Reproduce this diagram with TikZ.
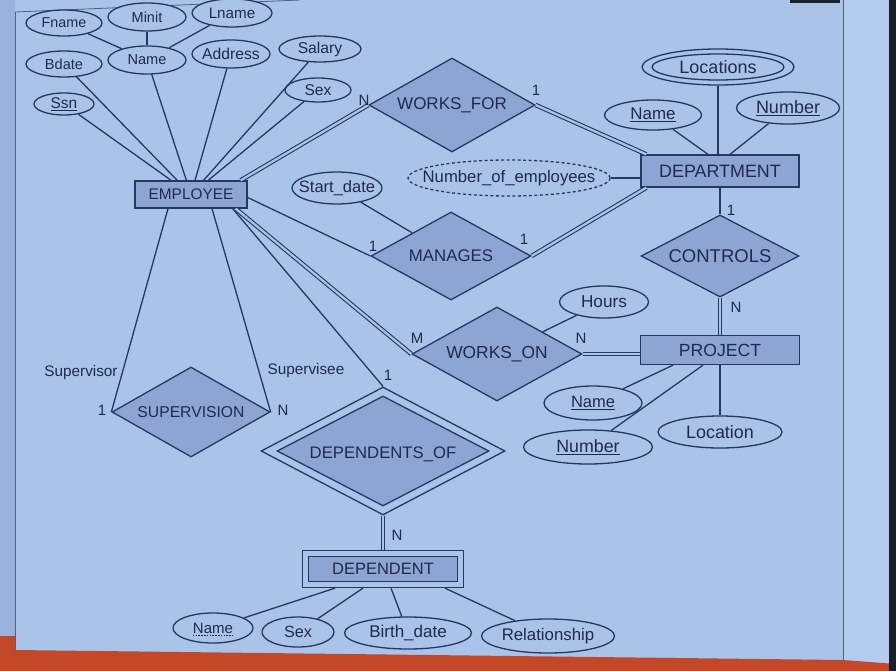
\documentclass[tikz,border=0pt]{standalone}
\usepackage{fontspec}
\setmainfont{Liberation Sans}
\usetikzlibrary{shapes.geometric}
\definecolor{bgc}{RGB}{170,195,233}
\definecolor{edgec}{RGB}{152,178,220}
\definecolor{stripc}{RGB}{180,204,238}
\definecolor{shc}{RGB}{140,165,210}
\definecolor{lnc}{RGB}{38,55,100}
\definecolor{txc}{RGB}{33,42,78}
\definecolor{orc}{RGB}{196,72,40}
\definecolor{darkc}{RGB}{26,31,42}
\begin{document}
\begin{tikzpicture}[x=1pt,y=-1pt,
  ln/.style={draw=lnc, line width=1.3pt},
  dbl/.style={draw=lnc, line width=1.1pt, double=bgc, double distance=2.3pt},
  txt/.style={text=txc, font=\fontsize{#1}{#1}\selectfont, inner sep=0pt},
  txt/.default=15,
  card/.style={text=txc, font=\fontsize{15}{16}\selectfont, inner sep=0pt},
  role/.style={text=txc, font=\fontsize{15.3}{16}\selectfont, inner sep=0pt},
  attr/.style={ellipse, draw=lnc, line width=1.3pt, fill=bgc, inner sep=0pt},
  ent/.style={rectangle, draw=lnc, line width=1.3pt, fill=shc, inner sep=0pt},
  rel/.style={diamond, draw=lnc, line width=1.3pt, fill=shc, inner sep=0pt},
  frame/.style={draw=lnc!80, line width=0.8pt}]
\useasboundingbox (0,0) rectangle (896,671);
% backdrop
\fill[bgc] (0,0) rectangle (896,671);
\fill[edgec] (0,0) rectangle (15,671);
\fill[stripc] (843,0) rectangle (889,671);
\fill[orc] (0,636) -- (15,636) -- (15,650) -- (843,660) -- (896,664) -- (896,671) -- (0,671) -- cycle;
\fill[darkc] (889,0) rectangle (896,671);
\fill[darkc] (790,0) rectangle (840,3);
\draw[frame] (15,12) -- (15,650);
\draw[frame] (15,12) -- (300,0);
\draw[frame] (843,0) -- (843,660);

% EMPLOYEE and its attributes
\node[ent, minimum width=112, minimum height=27, label={[txt=15.4]center:EMPLOYEE}] (emp) at (191,194.5) {};
\node[attr, minimum width=76, minimum height=26, label={[txt=14.3]center:Fname}] (fname) at (64,23) {};
\node[attr, minimum width=78, minimum height=28, label={[txt=14.5]center:Minit}] (minit) at (147,17) {};
\node[attr, minimum width=80, minimum height=28, label={[txt=15.2]center:Lname}] (lname) at (232,13) {};
\node[attr, minimum width=76, minimum height=26, label={[txt=14.6]center:Bdate}] (bdate) at (64,64) {};
\node[attr, minimum width=78, minimum height=28, label={[txt=14.6]center:Name}] (ename) at (147,60) {};
\node[attr, minimum width=78, minimum height=28, label={[txt=15.7]center:Address}] (addr) at (231,54) {};
\node[attr, minimum width=82, minimum height=26, label={[txt=15.7]center:Salary}] (sal) at (320,49) {};
\node[attr, minimum width=66, minimum height=24, label={[txt=15.6]center:Sex}] (esex) at (318,90) {};
\node[attr, minimum width=60, minimum height=22, label={[txt=15.5]center:\underline{Ssn}}] (ssn) at (64,104) {};
\draw[ln] (ssn) -- (emp);
\draw[ln] (bdate) -- (emp);
\draw[ln] (ename) -- (emp);
\draw[ln] (addr) -- (emp);
\draw[ln] (sal) -- (emp);
\draw[ln] (esex) -- (emp);
\draw[ln] (fname) -- (ename);
\draw[ln] (minit) -- (ename);
\draw[ln] (lname) -- (ename);

% DEPARTMENT
\node[ent, minimum width=158, minimum height=32, label={[txt=17.9]center:DEPARTMENT}] (dept) at (720,171) {};
\node[attr, minimum width=152, minimum height=36] (loc) at (718,67) {};
\node[attr, minimum width=132, minimum height=26, label={[txt=18]center:Locations}] (locin) at (718,67) {};
\node[attr, minimum width=97, minimum height=30, label={[txt=16.9]center:\underline{Name}}] (dname) at (653,115) {};
\node[attr, minimum width=103, minimum height=32, label={[txt=18]center:\underline{Number}}] (dnum) at (788,108) {};
\node[attr, dashed, dash pattern=on 3pt off 2.5pt, minimum width=202, minimum height=36, label={[txt=16.7]center:Number\_of\_employees}] (noe) at (509,178) {};
\draw[ln] (dname) -- ([xshift=-12pt]dept.north);
\draw[ln] (loc.south) -- (loc.south |- dept.north);
\draw[ln] (dnum) -- ([xshift=10pt]dept.north);
\draw[ln] (noe.east) -- (noe.east -| dept.west);

% WORKS_FOR
\node[rel, minimum width=166, minimum height=94, label={[txt=17]center:WORKS\_FOR}] (wf) at (452,105) {};
\draw[dbl] ([xshift=-7pt]emp.north east) -- (wf.west);
\draw[dbl] (wf.east) -- ([xshift=6pt]dept.north west);

% MANAGES
\node[attr, minimum width=90, minimum height=32, label={[txt=16.5]center:Start\_date}] (sdate) at (337,188) {};
\node[rel, minimum width=160, minimum height=88, label={[txt=16.8]center:MANAGES}] (man) at (451,256) {};
\draw[ln] ([yshift=-3pt]emp.east) -- (man.west);
\draw[ln] (sdate) -- (man);
\draw[dbl] (man.east) -- ([xshift=6pt]dept.south west);

% CONTROLS and PROJECT
\node[rel, minimum width=158, minimum height=82, label={[txt=18.5]center:CONTROLS}] (ctrl) at (720,256) {};
\node[ent, minimum width=159, minimum height=29, label={[txt=17.6]center:PROJECT}] (proj) at (720,350) {};
\draw[ln] (dept) -- (ctrl);
\draw[dbl] (ctrl.south) -- (proj.north);
\node[attr, minimum width=98, minimum height=34, label={[txt=16.5]center:\underline{Name}}] (pname) at (593,403) {};
\node[attr, minimum width=129, minimum height=34, label={[txt=17.8]center:\underline{Number}}] (pnum) at (588,447) {};
\node[attr, minimum width=124, minimum height=32, label={[txt=17.9]center:Location}] (ploc) at (720,432) {};
\draw[ln] (pname) -- ([xshift=-47pt]proj.south);
\draw[ln] (pnum) -- ([xshift=-17pt]proj.south);
\draw[ln] (ploc) -- (proj);

% WORKS_ON
\node[rel, minimum width=170, minimum height=94, label={[txt=17.4]center:WORKS\_ON}] (won) at (497,354) {};
\node[attr, minimum width=89, minimum height=32, label={[txt=17.2]center:Hours}] (hours) at (604,302) {};
\draw[dbl] ([xshift=-12pt]emp.south east) -- (won.west);
\draw[dbl] (won.east) -- (won.east -| proj.west);
\draw[ln] (hours) -- (won);

% SUPERVISION
\node[rel, minimum width=158, minimum height=90, label={[txt=15.7]center:SUPERVISION}] (sup) at (191,412) {};
\draw[ln] ([xshift=-23pt]emp.south) -- (sup.west);
\draw[ln] ([xshift=21pt]emp.south) -- (sup.east);

% DEPENDENTS_OF and DEPENDENT
\node[diamond, draw=lnc, line width=1.3pt, fill=bgc, inner sep=0pt, minimum width=244, minimum height=128] (depof) at (383,451) {};
\node[rel, minimum width=212, minimum height=110, label={[txt=16.7, yshift=-3pt]center:DEPENDENTS\_OF}] (depofin) at (383,451) {};
\draw[ln] ([xshift=-15pt]emp.south east) -- (depof.north);
\node[rectangle, draw=lnc, line width=1.3pt, fill=bgc, inner sep=0pt, minimum width=161, minimum height=37] (dep) at (383,569) {};
\node[ent, minimum width=149, minimum height=25, label={[txt=16.5]center:DEPENDENT}] (depin) at (383,569) {};
\draw[dbl] (depof.south) -- (dep.north);
\node[attr, minimum width=80, minimum height=30, label={[txt=15, name=dpnl]center:Name}] (dpname) at (213,628) {};
\draw[draw=txc, line width=0.8pt, dash pattern=on 1.6pt off 1.2pt] ([yshift=-2pt]dpnl.south west) -- ([yshift=-2pt]dpnl.south east);
\node[attr, minimum width=72, minimum height=30, label={[txt=16.2]center:Sex}] (dsex) at (298,632) {};
\node[attr, minimum width=127, minimum height=32, label={[txt=17]center:Birth\_date}] (dbd) at (408,633) {};
\node[attr, minimum width=133, minimum height=34, label={[txt=16.8]center:Relationship}] (drel) at (548,636) {};
\draw[ln] (dpname) -- ([xshift=-48pt]dep.south);
\draw[ln] (dsex) -- ([xshift=-20pt]dep.south);
\draw[ln] (dbd) -- ([xshift=8pt]dep.south);
\draw[ln] (drel) -- ([xshift=62pt]dep.south);

% cardinalities and roles
\node[card] (c1) at (364,100) {N};
\node[card] (c2) at (536,90) {1};
\node[card] (c3) at (373,246) {1};
\node[card] (c4) at (524,239) {1};
\node[card] (c5) at (731,210) {1};
\node[card] (c6) at (736,307) {N};
\node[card] (c7) at (417,338) {M};
\node[card] (c8) at (581,338) {N};
\node[card] (c9) at (102,410) {1};
\node[card] (c10) at (283,410) {N};
\node[card] (c11) at (388,375) {1};
\node[card] (c12) at (397,535) {N};
\node[role] (r1) at (81,373) {Supervisor};
\node[role] (r2) at (306,371) {Supervisee};
\end{tikzpicture}
\end{document}
